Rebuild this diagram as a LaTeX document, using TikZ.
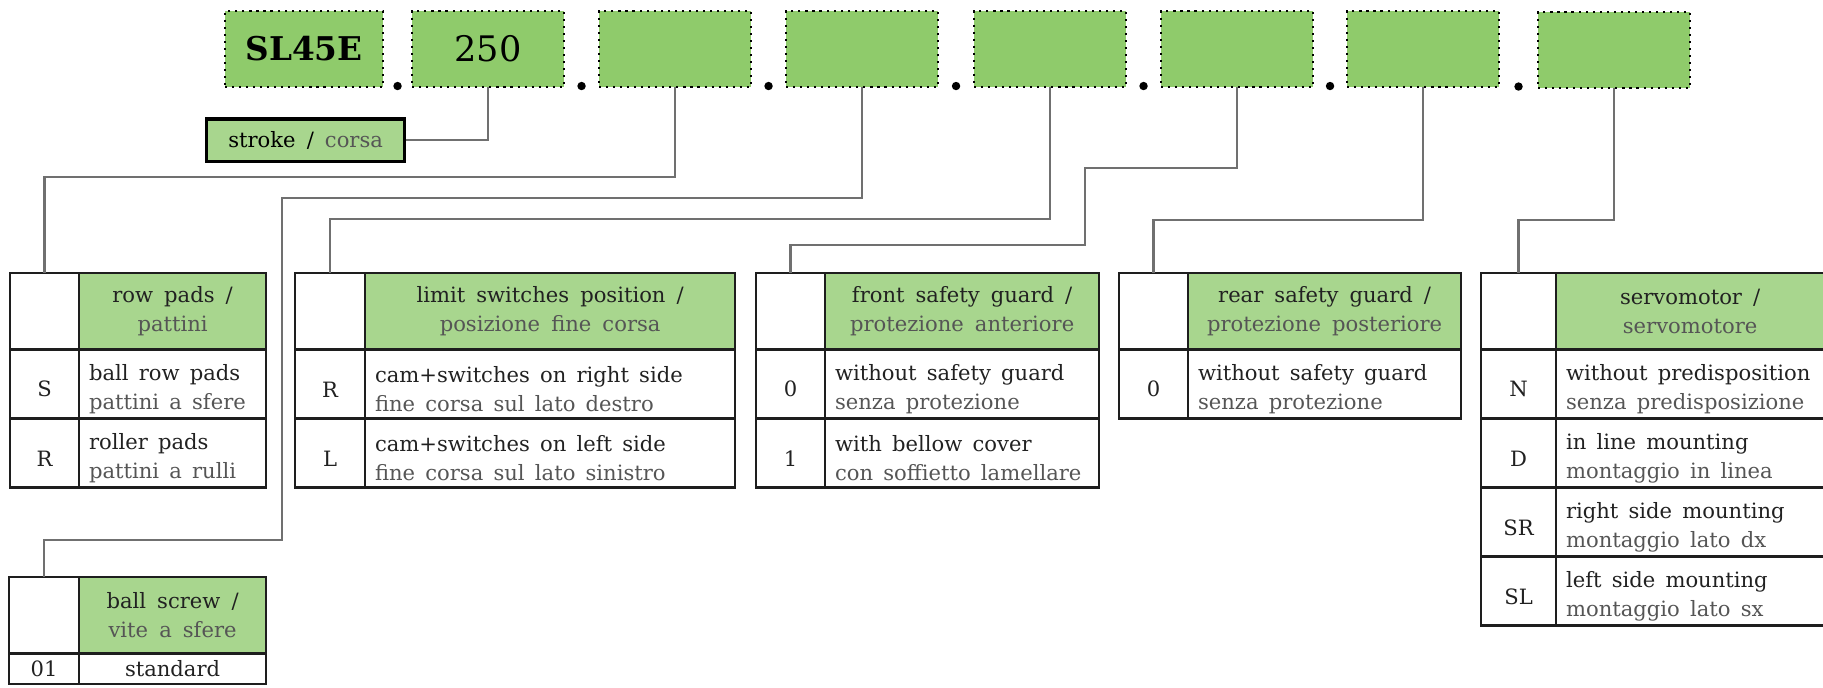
\documentclass[tikz,border=0pt]{standalone}
\usepackage{fontspec}
\setmainfont{DejaVu Serif}[WordSpace=1.65]
\usepackage{tikz}
\usetikzlibrary{calc,positioning}
\definecolor{boxgreen}{RGB}{143,203,107}
\definecolor{headgreen}{RGB}{168,214,142}
\definecolor{itgray}{RGB}{85,85,85}
\definecolor{linkgray}{RGB}{112,112,112}
\definecolor{tabline}{RGB}{30,30,30}
\newcommand{\ita}[1]{\textcolor{itgray}{#1}}
\tikzset{
  codebox/.style={fill=boxgreen, draw=black, line width=0.6pt, dash pattern=on 0.6pt off 1.4pt,
    minimum width=1.52cm, minimum height=0.76cm, inner sep=0pt, outer sep=0pt, anchor=north west},
  cell/.style={draw=tabline, line width=0.7pt, inner sep=0pt, outer sep=0pt, anchor=north west,
    minimum height=0.69cm, text=black!87},
  rowcell/.style={cell, execute at begin node={\rule{0pt}{7.4pt}}},
  blank/.style={cell, minimum height=0.765cm},
  head/.style={rowcell, fill=headgreen, minimum height=0.765cm, align=center},
  desc/.style={cell, align=left, inner xsep=0pt,
    execute at begin node={\leftskip=0.1cm\spaceskip=2.9pt plus 1pt\relax\rule{0pt}{7.4pt}}},
  link/.style={draw=linkgray, line width=0.6pt}
}

\begin{document}
\begin{tikzpicture}[x=0.01cm, y=-0.01cm, font=\fontsize{6}{8.4}\selectfont]
			\useasboundingbox (0,0) rectangle (1823,688);
			% code boxes
			\node[codebox, minimum width=1.58cm] (b1) at (225,11) {\fontsize{9.3}{9.3}\selectfont\bfseries SL45E};
			\node[codebox] (b2) at (412,11) {\fontsize{10}{10}\selectfont 250};
			\node[codebox] (b3) at (599,11) {};
			\node[codebox] (b4) at (786,11) {};
			\node[codebox] (b5) at (974,11) {};
			\node[codebox] (b6) at (1161,11) {};
			\node[codebox] (b7) at (1347,11) {};
			\node[codebox] (b8) at (1538,12) {};
			\foreach \a/\b in {b1/b2,b2/b3,b3/b4,b4/b5,b5/b6,b6/b7,b7/b8}
				\fill ($(\a.south east)!0.5!(\b.south west)$) ++(0,-1) circle (0.042cm);
			\node[draw=black, line width=0.9pt, fill=headgreen, minimum width=1.98cm, minimum height=0.42cm,
				inner sep=0pt, anchor=north west] (st) at (205,117.5) {stroke / \ita{corsa}};
			% row pads
			\node[blank, minimum width=0.69cm] (h1) at (10,273) {};
			\node[head, minimum width=1.87cm] (t1) at (h1.north east) {row pads /\\\ita{pattini}};
			\node[rowcell, minimum width=0.69cm] (s1) at (h1.south west) {S};
			\node[desc, text width=1.87cm] (s1d) at (s1.north east) {ball row pads\\\ita{pattini a sfere}};
			\node[rowcell, minimum width=0.69cm] (r1) at (s1.south west) {R};
			\node[desc, text width=1.87cm] (r1d) at (r1.north east) {roller pads\\\ita{pattini a rulli}};
			% limit switches
			\node[blank, minimum width=0.70cm] (h2) at (295,273) {};
			\node[head, minimum width=3.70cm] (t2) at (h2.north east) {limit switches position /\\\ita{posizione fine corsa}};
			\node[rowcell, minimum width=0.70cm] (r2) at (h2.south west) {R};
			\node[desc, text width=3.70cm] (r2d) at (r2.north east) {cam+switches on right side\\\ita{fine corsa sul lato destro}};
			\node[rowcell, minimum width=0.70cm] (l2) at (r2.south west) {L};
			\node[desc, text width=3.70cm] (l2d) at (l2.north east) {cam+switches on left side\\\ita{fine corsa sul lato sinistro}};
			% front safety guard
			\node[blank, minimum width=0.69cm] (h3) at (756,273) {};
			\node[head, minimum width=2.74cm] (t3) at (h3.north east) {front safety guard /\\\ita{protezione anteriore}};
			\node[rowcell, minimum width=0.69cm] (z3) at (h3.south west) {0};
			\node[desc, text width=2.74cm] (z3d) at (z3.north east) {without safety guard\\\ita{senza protezione}};
			\node[rowcell, minimum width=0.69cm] (o3) at (z3.south west) {1};
			\node[desc, text width=2.74cm] (o3d) at (o3.north east) {with bellow cover\\\ita{con soffietto lamellare}};
			% rear safety guard
			\node[blank, minimum width=0.69cm] (h4) at (1119,273) {};
			\node[head, minimum width=2.73cm] (t4) at (h4.north east) {rear safety guard /\\\ita{protezione posteriore}};
			\node[rowcell, minimum width=0.69cm] (z4) at (h4.south west) {0};
			\node[desc, text width=2.73cm] (z4d) at (z4.north east) {without safety guard\\\ita{senza protezione}};
			% servomotor
			\node[blank, minimum width=0.75cm] (h5) at (1481,273) {};
			\node[head, minimum width=2.68cm] (t5) at (h5.north east) {servomotor /\\\ita{servomotore}};
			\node[rowcell, minimum width=0.75cm] (n5) at (h5.south west) {N};
			\node[desc, text width=2.80cm] (n5d) at (n5.north east) {without predisposition\\\ita{senza predisposizione}};
			\node[rowcell, minimum width=0.75cm] (d5) at (n5.south west) {D};
			\node[desc, text width=2.80cm] (d5d) at (d5.north east) {in line mounting\\\ita{montaggio in linea}};
			\node[rowcell, minimum width=0.75cm] (sr5) at (d5.south west) {SR};
			\node[desc, text width=2.80cm] (sr5d) at (sr5.north east) {right side mounting\\\ita{montaggio lato dx}};
			\node[rowcell, minimum width=0.75cm] (sl5) at (sr5.south west) {SL};
			\node[desc, text width=2.80cm] (sl5d) at (sl5.north east) {left side mounting\\\ita{montaggio lato sx}};
			% ball screw
			\node[blank, minimum width=0.70cm] (h6) at (9,577) {};
			\node[head, minimum width=1.87cm] (t6) at (h6.north east) {ball screw /\\\ita{vite a sfere}};
			\node[cell, minimum width=0.70cm, minimum height=0.306cm] (u6) at (h6.south west) {01};
			\node[cell, minimum width=1.87cm, minimum height=0.306cm] (u6d) at (u6.north east) {standard};
			% connectors
			\draw[link] (b2.south) |- (st.east);
			\draw[link] (b3.south) -- ++(0,90) -| (h1.north);
			\draw[link] (b4.south) |- (282,198) -- (282,540) -| (h6.north);
			\draw[link] (b5.south) -- ++(0,132) -| (h2.north);
			\draw[link] (b6.south) |- (1085,168) -- (1085,245) -| (h3.north);
			\draw[link] (b7.south) -- ++(0,133) -| (h4.north);
			\draw[link] (b8.south) -- ++(0,132) -| (h5.north);
		\end{tikzpicture}
\end{document}
